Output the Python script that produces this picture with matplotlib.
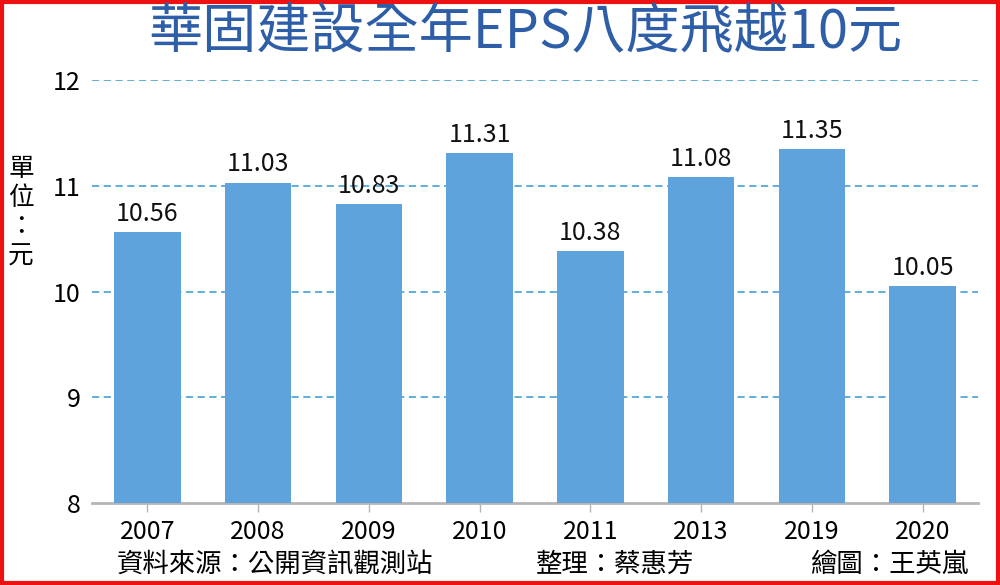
import matplotlib.pyplot as plt
from matplotlib.patches import Rectangle

plt.rcParams['font.family'] = ['Noto Sans CJK TC', 'DejaVu Sans']

years = ['2007', '2008', '2009', '2010', '2011', '2013', '2019', '2020']
eps = [10.56, 11.03, 10.83, 11.31, 10.38, 11.08, 11.35, 10.05]
yticks = [8, 9, 10, 11, 12]

title = '華固建設全年EPS八度飛越10元'
unit = '單\n位\n：\n元'
source = '資料來源：公開資訊觀測站'
editor = '整理：蔡惠芳'
artist = '繪圖：王英嵐'

fig = plt.figure(figsize=(10, 5.85), dpi=100)
ax = fig.add_axes([0.092, 0.140, 0.886, 0.723])

x = range(len(years))
ax.bar(x, [v - 8 for v in eps], bottom=8, width=0.6, color='#5fa3dd', zorder=3)
for i, v in enumerate(eps):
    ax.text(i, v + 0.05, f'{v:.2f}', ha='center', va='bottom', fontsize=18, color='#111111')

ax.set_xlim(-0.5, 7.5)
ax.set_ylim(8, 12)
ax.set_yticks(yticks)
ax.set_yticklabels([str(t) for t in yticks], fontsize=18)
ax.set_xticks(list(x))
ax.set_xticklabels(years, fontsize=18)

for t in yticks[1:]:
    ax.axhline(t, color='#55a8d8', ls=(0, (4, 2.5)), lw=1.3, zorder=1)

for s in ['top', 'right', 'left']:
    ax.spines[s].set_visible(False)
ax.spines['bottom'].set_color('#b5b5b5')
ax.spines['bottom'].set_linewidth(2)
ax.tick_params(axis='y', length=0, pad=8)
ax.tick_params(axis='x', length=6.5, color='#b5b5b5', width=1, pad=5)

fig.text(0.525, 0.944, title, ha='center', va='center', fontsize=39,
         fontweight='medium', color='#2f5ea8')
fig.text(0.021, 0.636, unit, ha='center', va='center', fontsize=18.5, linespacing=1.15)
fig.text(0.117, 0.036, source, ha='left', va='center', fontsize=19)
fig.text(0.536, 0.036, editor, ha='left', va='center', fontsize=19)
fig.text(0.968, 0.036, artist, ha='right', va='center', fontsize=19)

fig.patches.append(Rectangle((0.002, 0.003), 0.996, 0.994, transform=fig.transFigure,
                             fill=False, edgecolor='#ee1111', lw=3))

fig.savefig('out.png', dpi=100)
